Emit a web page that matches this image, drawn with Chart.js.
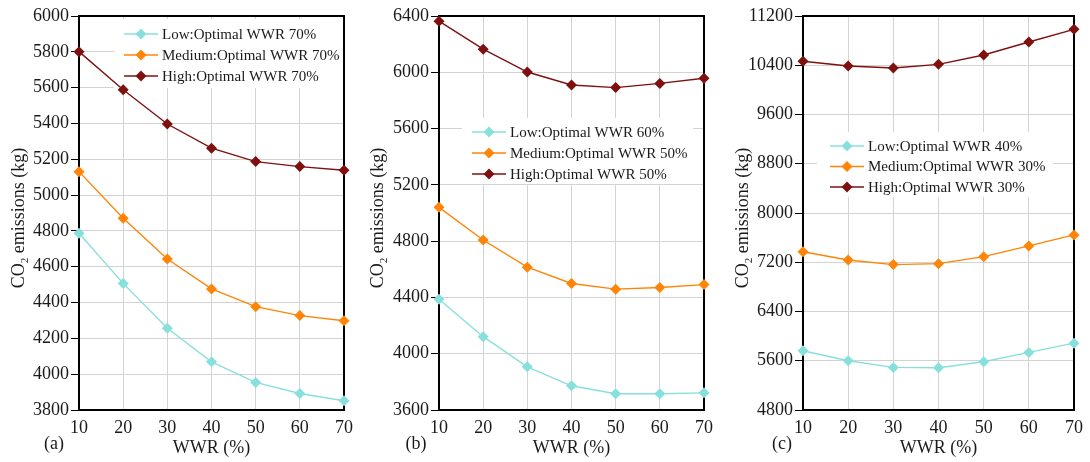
<!DOCTYPE html>
<html>
<head>
<meta charset="utf-8">
<script src="https://cdn.jsdelivr.net/npm/chart.js@4.4.1/dist/chart.umd.min.js"></script>
<style>
  html, body { margin: 0; padding: 0; background: #fff; }
  #wrap { position: relative; width: 1090px; height: 462px; overflow: hidden; }
  .panel { position: absolute; top: 0; height: 462px; }
</style>
</head>
<body>
<div id="wrap">
  <div class="panel" style="left:0;width:360px"><canvas id="cA"></canvas></div>
  <div class="panel" style="left:360px;width:360px"><canvas id="cB"></canvas></div>
  <div class="panel" style="left:720px;width:370px"><canvas id="cC"></canvas></div>
</div>
<script>
// WWR sweep, CO2 emissions (kg) per internal-load level, three climates (a)(b)(c)
const wwr = ['10', '20', '30', '40', '50', '60', '70'];

const lowA  = [4787, 4507, 4256, 4069, 3954, 3892, 3852];
const medA  = [5131, 4871, 4643, 4476, 4377, 4327, 4298];
const highA = [5801, 5588, 5397, 5262, 5187, 5159, 5139];

const lowB  = [4387, 4121, 3907, 3772, 3716, 3715, 3722];
const medB  = [5040, 4808, 4615, 4499, 4459, 4471, 4491];
const highB = [6363, 6164, 6002, 5910, 5891, 5921, 5958];

const lowC  = [5762, 5600, 5492, 5486, 5584, 5735, 5886];
const medC  = [7371, 7237, 7162, 7177, 7291, 7465, 7644];
const highC = [10464, 10388, 10355, 10415, 10566, 10778, 10983];

const labelsA = ['Low:Optimal WWR 70%', 'Medium:Optimal WWR 70%', 'High:Optimal WWR 70%'];
const labelsB = ['Low:Optimal WWR 60%', 'Medium:Optimal WWR 50%', 'High:Optimal WWR 50%'];
const labelsC = ['Low:Optimal WWR 40%', 'Medium:Optimal WWR 30%', 'High:Optimal WWR 30%'];

const SERIF = "'Liberation Serif', 'Times New Roman', serif";
const INK = '#1a1a1a';
const COLORS = ['#88e0dc', '#ff8408', '#7e1010'];
const GRID = '#d3d3d3';

// Decorations the reference has but Chart.js doesn't do natively:
// boxed frame, in-plot legend on white, CO2 subscript title, (a)/(b)/(c) tag.
const decor = {
  id: 'decor',
  beforeDatasetsDraw(chart, args, o) {
    const { ctx, chartArea: a } = chart;
    ctx.save();
    const b = o.box;
    ctx.fillStyle = '#fff';
    ctx.fillRect(b[0], b[1], b[2] - b[0], b[3] - b[1]);

    ctx.strokeStyle = '#000';
    ctx.lineWidth = 2;
    ctx.strokeRect(a.left, a.top, a.right - a.left, a.bottom - a.top);

    ctx.font = `15px ${SERIF}`;
    ctx.textBaseline = 'middle';
    chart.data.datasets.forEach((ds, i) => {
      const y = o.legY + i * o.legGap;
      ctx.strokeStyle = ds.borderColor;
      ctx.lineWidth = 1.5;
      ctx.beginPath();
      ctx.moveTo(o.legX, y);
      ctx.lineTo(o.legX + 34, y);
      ctx.stroke();
      ctx.fillStyle = ds.pointBackgroundColor;
      Chart.helpers.drawPoint(ctx, { pointStyle: 'rectRot', radius: 5.5, rotation: 0, borderWidth: 0 }, o.legX + 17, y);
      ctx.fillStyle = INK;
      ctx.fillText(ds.label, o.legX + 38, y + 1);
    });
    ctx.restore();
  },
  afterDraw(chart, args, o) {
    const { ctx } = chart;
    ctx.save();
    ctx.fillStyle = INK;
    ctx.textBaseline = 'alphabetic';

    // rotated y title with subscript 2
    const big = `18px ${SERIF}`, small = `11px ${SERIF}`;
    ctx.font = big;
    const w1 = ctx.measureText('CO').width;
    const w3 = ctx.measureText(' emissions (kg)').width;
    ctx.font = small;
    const w2 = ctx.measureText('2').width;
    const total = w1 + w2 + w3;
    ctx.translate(o.titleX, o.titleY);
    ctx.rotate(-Math.PI / 2);
    let x = -total / 2;
    ctx.font = big;
    ctx.fillText('CO', x, 6);
    x += w1;
    ctx.font = small;
    ctx.fillText('2', x, 10);
    x += w2;
    ctx.font = big;
    ctx.fillText(' emissions (kg)', x, 6);
    ctx.setTransform(1, 0, 0, 1, 0, 0);

    ctx.font = big;
    ctx.textAlign = 'center';
    ctx.textBaseline = 'middle';
    ctx.fillText(o.tag, o.tagX, 444);
    ctx.restore();
  }
};

function makePanel(id, series, names, yr, lay) {
  const datasets = series.map((data, i) => ({
    label: names[i],
    data,
    borderColor: COLORS[i],
    backgroundColor: COLORS[i],
    pointBackgroundColor: COLORS[i],
    pointBorderWidth: 0,
    pointStyle: 'rectRot',
    pointRadius: 5.5,
    borderWidth: 1.4,
    tension: 0,
    clip: false,
  }));

  return new Chart(document.getElementById(id), {
    type: 'line',
    data: { labels: wwr, datasets },
    plugins: [decor],
    options: {
      responsive: true,
      maintainAspectRatio: false,
      animation: false,
      layout: { padding: { left: 0, right: lay.padRight, top: 16, bottom: 0 } },
      scales: {
        x: {
          offset: false,
          ticks: { padding: 7, color: INK, maxRotation: 0, autoSkip: false, font: { family: SERIF, size: 18 } },
          grid: { color: GRID, lineWidth: 1, drawTicks: false },
          border: { display: false },
          title: { display: true, text: 'WWR (%)', color: INK, font: { family: SERIF, size: 18 }, padding: { top: 0, bottom: 3 } },
          afterFit(s) { s.height = 52; },
        },
        y: {
          min: yr[0],
          max: yr[1],
          ticks: { stepSize: yr[2], padding: 2, color: INK, font: { family: SERIF, size: 18 }, callback: v => String(v) },
          grid: { color: GRID, lineWidth: 1, tickLength: 8, tickColor: '#000' },
          border: { display: false },
          afterFit(s) { s.width = lay.left; },
        },
      },
      plugins: {
        legend: { display: false },
        tooltip: { enabled: false },
        decor: lay.decor,
      },
    },
  });
}

makePanel('cA', [lowA, medA, highA], labelsA, [3800, 6000, 200], {
  left: 79, padRight: 9,
  decor: { box: [114, 19, 346, 88], legX: 124, legY: 34, legGap: 21, titleX: 18, titleY: 218, tag: '(a)', tagX: 54 },
});
makePanel('cB', [lowB, medB, highB], labelsB, [3600, 6400, 400], {
  left: 79, padRight: 9,
  decor: { box: [102, 118, 333, 184], legX: 112, legY: 132, legGap: 21, titleX: 17, titleY: 218, tag: '(b)', tagX: 56 },
});
makePanel('cC', [lowC, medC, highC], labelsC, [4800, 11200, 800], {
  left: 83, padRight: 14,
  decor: { box: [97, 132, 333, 197], legX: 110, legY: 146, legGap: 20.5, titleX: 22, titleY: 218, tag: '(c)', tagX: 62 },
});
</script>
</body>
</html>
